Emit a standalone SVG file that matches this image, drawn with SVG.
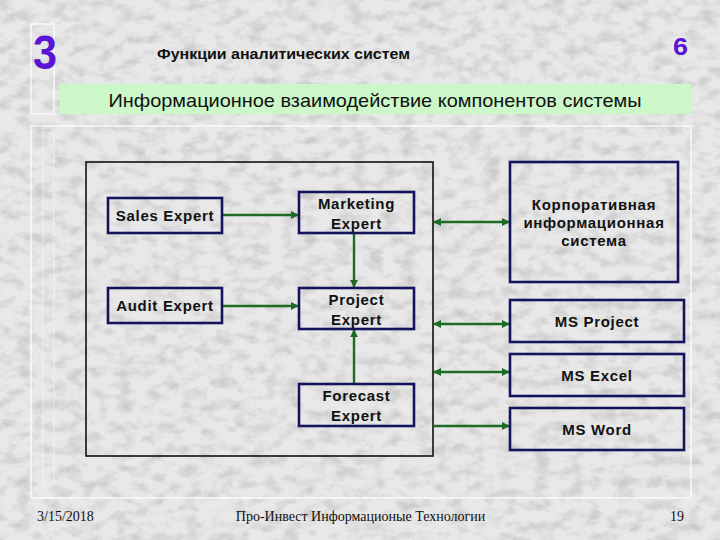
<svg xmlns="http://www.w3.org/2000/svg" width="720" height="540" viewBox="0 0 720 540">
  <defs>
    <filter id="marble" x="0" y="0" width="100%" height="100%">
      <feTurbulence type="fractalNoise" baseFrequency="0.06 0.09" numOctaves="4" seed="11" result="n"/>
      <feColorMatrix in="n" type="matrix" values="0 0 0 0 0.5  0 0 0 0 0.5  0 0 0 0 0.5  2.2 0 0 0 -0.95" result="v"/>
      <feComposite in="v" in2="SourceGraphic" operator="in"/>
    </filter>
    <marker id="ah" viewBox="0 0 10 10" refX="9" refY="5" markerWidth="8" markerHeight="8" markerUnits="userSpaceOnUse" orient="auto-start-reverse">
      <path d="M0,0 L10,5 L0,10 z" fill="#1d6b24"/>
    </marker>
    <style>
      .box { fill: none; stroke: #14145e; stroke-width: 2.6; }
      .lbl { font-family: "Liberation Sans", Arial, sans-serif; font-weight: bold; font-size: 15px; fill: #111; text-anchor: middle; letter-spacing: 0.7px; }
      .con { stroke: #1d6b24; stroke-width: 2.4; fill: none; }
      .foot { font-family: "Liberation Serif", "Times New Roman", serif; font-size: 14px; fill: #111; }
      .frame { fill: none; stroke: #ffffff; stroke-width: 1.2; }
    </style>
  </defs>

  <!-- background -->
  <rect x="0" y="0" width="720" height="540" fill="#e8e8e8"/>
  <rect x="0" y="0" width="720" height="540" fill="#fff" filter="url(#marble)" opacity="0.7"/>

  <!-- slide frames -->
  <rect class="frame" x="31" y="24" width="23" height="90" fill="#ffffff" fill-opacity="0.3"/>
  <rect class="frame" x="31" y="126" width="660" height="372"/>
  <rect x="43" y="128" width="11" height="357" fill="none" stroke="#ffffff" stroke-width="0.8" stroke-opacity="0.6"/>

  <!-- header -->
  <text x="45" y="69" font-family="'Liberation Sans Narrow', 'Liberation Sans', Arial, sans-serif" font-weight="bold" font-size="49" fill="#5a14d4" text-anchor="middle" textLength="24" lengthAdjust="spacingAndGlyphs">3</text>
  <text x="680.5" y="55" font-family="'Liberation Sans', Arial, sans-serif" font-weight="bold" font-size="24" fill="#5a14d4" text-anchor="middle" textLength="15" lengthAdjust="spacingAndGlyphs">6</text>
  <text x="157" y="59" font-family="'Liberation Sans', Arial, sans-serif" font-weight="bold" font-size="14" fill="#111" textLength="253" lengthAdjust="spacingAndGlyphs">Функции аналитических систем</text>

  <rect x="60" y="84" width="631" height="30" fill="#ccf7c8"/>
  <text x="375" y="107" font-family="'Liberation Sans', Arial, sans-serif" font-size="19" fill="#111" text-anchor="middle" textLength="533" lengthAdjust="spacingAndGlyphs">Информационное взаимодействие компонентов системы</text>

  <!-- outer black frame -->
  <rect id="frame-main" x="86" y="162" width="347" height="294" fill="none" stroke="#111" stroke-width="1.6"/>

  <!-- connectors -->
  <g id="connectors">
    <line class="con" x1="222" y1="215" x2="298" y2="215" marker-end="url(#ah)"/>
    <line class="con" x1="222" y1="306" x2="298" y2="306" marker-end="url(#ah)"/>
    <line class="con" x1="354" y1="233" x2="354" y2="287" marker-end="url(#ah)"/>
    <line class="con" x1="354" y1="383" x2="354" y2="330" marker-end="url(#ah)"/>
    <line class="con" x1="434" y1="222" x2="509" y2="222" marker-start="url(#ah)" marker-end="url(#ah)"/>
    <line class="con" x1="434" y1="324" x2="509" y2="324" marker-start="url(#ah)" marker-end="url(#ah)"/>
    <line class="con" x1="434" y1="372" x2="509" y2="372" marker-start="url(#ah)" marker-end="url(#ah)"/>
    <line class="con" x1="433" y1="426" x2="509" y2="426" marker-end="url(#ah)"/>
  </g>

  <!-- nodes -->
  <g id="sales-expert">
    <rect class="box" x="108" y="198" width="114" height="35"/>
    <text class="lbl" x="165" y="221">Sales Expert</text>
  </g>
  <g id="audit-expert">
    <rect class="box" x="108" y="288" width="114" height="35"/>
    <text class="lbl" x="165" y="311">Audit Expert</text>
  </g>
  <g id="marketing-expert">
    <rect class="box" x="299" y="192" width="115" height="41"/>
    <text class="lbl" x="356.5" y="209">Marketing</text>
    <text class="lbl" x="356.5" y="229">Expert</text>
  </g>
  <g id="project-expert">
    <rect class="box" x="299" y="288" width="115" height="41"/>
    <text class="lbl" x="356.5" y="305">Project</text>
    <text class="lbl" x="356.5" y="325">Expert</text>
  </g>
  <g id="forecast-expert">
    <rect class="box" x="299" y="384" width="115" height="42"/>
    <text class="lbl" x="356.5" y="401">Forecast</text>
    <text class="lbl" x="356.5" y="421">Expert</text>
  </g>
  <g id="corporate-is">
    <rect class="box" x="510" y="162" width="168" height="120"/>
    <text class="lbl" x="594" y="210">Корпоративная</text>
    <text class="lbl" x="594" y="228">информационная</text>
    <text class="lbl" x="594" y="246">система</text>
  </g>
  <g id="ms-project">
    <rect class="box" x="510" y="300" width="174" height="42"/>
    <text class="lbl" x="597" y="327">MS Project</text>
  </g>
  <g id="ms-excel">
    <rect class="box" x="510" y="354" width="174" height="42"/>
    <text class="lbl" x="597" y="381">MS Excel</text>
  </g>
  <g id="ms-word">
    <rect class="box" x="510" y="408" width="174" height="42"/>
    <text class="lbl" x="597" y="435">MS Word</text>
  </g>

  <!-- footer -->
  <text class="foot" x="37" y="521">3/15/2018</text>
  <text class="foot" x="360.5" y="521" text-anchor="middle">Про-Инвест Информационые Технологии</text>
  <text class="foot" x="670" y="521">19</text>
</svg>
